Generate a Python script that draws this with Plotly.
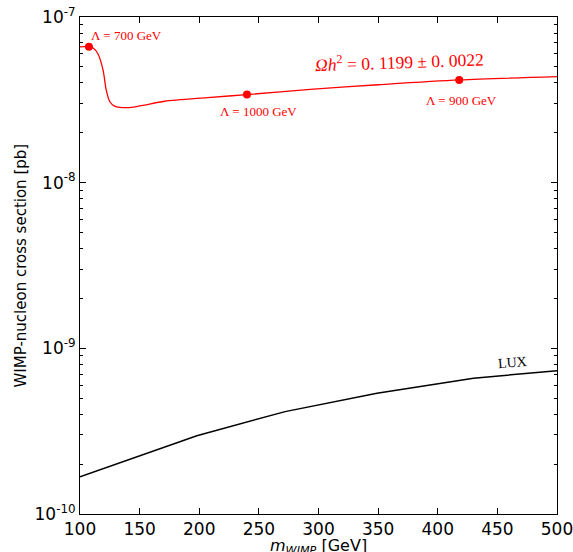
import plotly.graph_objects as go

# Relic-density curve (red)
relic_mass = [100, 104, 107.5, 111, 115, 119.3, 122, 125, 129, 136, 145, 154, 171, 207, 240, 293, 350, 418, 500]
relic_sigma = [6.61e-8, 6.63e-8, 6.62e-8, 6.5e-8, 6.0e-8, 4.8e-8, 3.62e-8, 3.08e-8, 2.9e-8, 2.84e-8, 2.86e-8, 2.94e-8, 3.1e-8, 3.26e-8, 3.40e-8, 3.66e-8, 3.9e-8, 4.17e-8, 4.37e-8]

# Benchmark points
pt_mass = [107.5, 240, 418]
pt_sigma = [6.62e-8, 3.40e-8, 4.17e-8]
pt_labels = ["Λ = 700 GeV", "Λ = 1000 GeV", "Λ = 900 GeV"]

# LUX limit (black)
lux_mass = [100, 198, 272, 349, 430, 500]
lux_sigma = [1.68e-10, 2.97e-10, 4.15e-10, 5.36e-10, 6.6e-10, 7.33e-10]

y_tickvals = [1e-10, 1e-9, 1e-8, 1e-7]
y_ticktext = ["10<sup>-10</sup>", "10<sup>-9</sup>", "10<sup>-8</sup>", "10<sup>-7</sup>"]
x_tickvals = [100, 150, 200, 250, 300, 350, 400, 450, 500]

red = "#ff0000"

fig = go.Figure()
fig.add_trace(go.Scatter(x=relic_mass, y=relic_sigma, mode="lines",
                         line=dict(color=red, width=1.3, shape="spline", smoothing=0.8),
                         showlegend=False, hoverinfo="skip"))
fig.add_trace(go.Scatter(x=pt_mass, y=pt_sigma, mode="markers",
                         marker=dict(color=red, size=8), showlegend=False))
fig.add_trace(go.Scatter(x=lux_mass, y=lux_sigma, mode="lines",
                         line=dict(color="black", width=1.5),
                         showlegend=False, hoverinfo="skip"))

serif = "Liberation Serif, DejaVu Serif, serif"
ann_pos = [(139.4, -7.109), (249.3, -7.573), (420.3, -7.507)]
for (ax, ay), t in zip(ann_pos, pt_labels):
    fig.add_annotation(x=ax, y=ay, xref="x", yref="y", text=t, showarrow=False,
                       font=dict(family=serif, size=13, color=red))
fig.add_annotation(x=368.3, y=-7.266, xref="x", yref="y",
                   text="<i>Ωh</i><sup>2</sup> = 0. 1199 ± 0. 0022", showarrow=False,
                   textangle=-2, font=dict(family=serif, size=17.5, color=red))
fig.add_annotation(x=463, y=-9.088, xref="x", yref="y", text="LUX", showarrow=False,
                   textangle=-5, font=dict(family=serif, size=14, color="black"))

# Axis titles
fig.add_annotation(x=0.5, y=0, xref="paper", yref="paper", yshift=-32, yanchor="middle",
                   text="<i>m</i><sub><i>WIMP</i></sub> [GeV]", showarrow=False,
                   font=dict(family="DejaVu Sans", size=16, color="black"))
fig.add_annotation(x=0, y=0.5, xref="paper", yref="paper", xshift=-60, xanchor="center",
                   text="WIMP-nucleon cross section [pb]", showarrow=False, textangle=-90,
                   font=dict(family="DejaVu Sans", size=15, color="black"))

axis_common = dict(showgrid=False, zeroline=False, showline=True, linecolor="black",
                   linewidth=1, mirror="ticks", ticks="inside", ticklen=6, tickcolor="black",
                   automargin=False, ticklabeloverflow="allow",
                   tickfont=dict(family="DejaVu Sans", size=17, color="black"))

fig.update_xaxes(range=[100, 500], tickvals=x_tickvals, **axis_common)
fig.update_yaxes(type="log", range=[-10, -7], tickvals=y_tickvals, ticktext=y_ticktext,
                 minor=dict(ticks="inside", ticklen=3, tickcolor="black", showgrid=False,
                            dtick="D1"),
                 **axis_common)

fig.update_layout(width=573, height=552, margin=dict(l=80, r=16, t=17, b=38),
                  plot_bgcolor="white", paper_bgcolor="white")

fig.write_html("out.html")
